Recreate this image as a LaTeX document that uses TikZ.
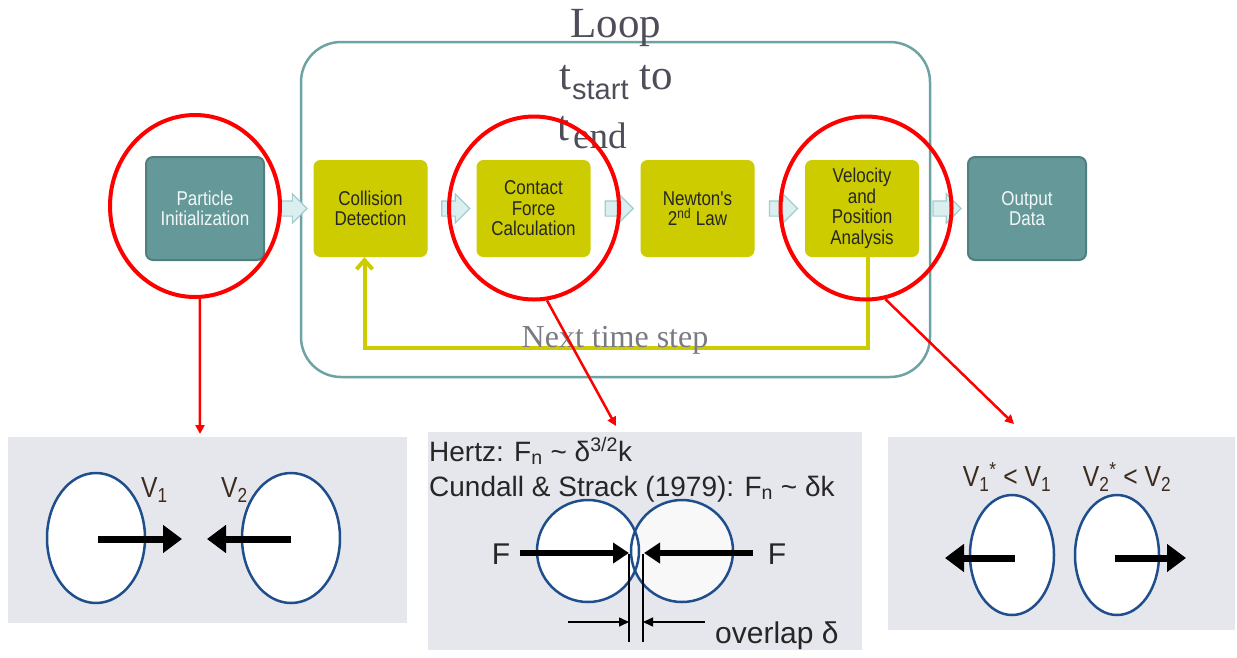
\documentclass[tikz,border=0pt]{standalone}
\usepackage{fontspec}
\setmainfont{Liberation Serif}
\setsansfont{Liberation Sans}
\newfontfamily\narrowsans[FakeStretch=0.85]{Liberation Sans}
\newfontfamily\panelsans{Liberation Sans}
\usetikzlibrary{shapes.arrows,shapes.geometric,arrows.meta,calc}
\definecolor{tealfill}{HTML}{659999}
\definecolor{tealedge}{HTML}{4F7F7F}
\definecolor{yelfill}{HTML}{CCCC00}
\definecolor{loopedge}{HTML}{6FA3A3}
\definecolor{afill}{HTML}{DCEFF0}
\definecolor{aedge}{HTML}{A0CDD0}
\definecolor{ringred}{HTML}{FF0000}
\definecolor{panelgrey}{HTML}{E6E7EC}
\definecolor{partblue}{HTML}{1F4E8C}
\definecolor{looptext}{HTML}{4E4E5A}
\definecolor{vtext}{HTML}{3B2C1E}
\tikzset{
  tealbox/.style={draw=tealedge, line width=2, fill=tealfill, rounded corners=7,
    minimum width=118, minimum height=103, align=center, text=white!92!tealfill,
    font=\narrowsans\fontsize{20}{20.5}\selectfont},
  yelbox/.style={fill=yelfill, rounded corners=7,
    minimum width=114, minimum height=97, align=center, text=black!85,
    font=\narrowsans\fontsize{20}{20.5}\selectfont},
  blockarrow/.style={single arrow, draw=aedge, fill=afill, line width=1.2,
    inner sep=7, minimum height=28, single arrow head extend=7},
  redring/.style={ellipse, draw=ringred, line width=4, inner sep=0},
  redarrow/.style={draw=ringred, line width=2.5, -{Triangle[length=9,width=9]}},
  particle/.style={ellipse, draw=partblue, line width=2.5, fill=white, inner sep=0},
  fatarrow/.style={line width=7, -{Triangle[length=19,width=27]}},
  farrow/.style={line width=6, -{Triangle[length=16,width=20]}},
  dimarrow/.style={line width=1.5, -{Triangle[length=10,width=9]}},
  vlabel/.style={text=vtext, font=\narrowsans\fontsize{29}{30}\selectfont, inner sep=0},
  ptext/.style={text=black!85, font=\panelsans\fontsize{28}{30}\selectfont, inner sep=0},
  bigptext/.style={text=black!85, font=\panelsans\fontsize{30}{32}\selectfont, inner sep=0},
  looptxt/.style={text=looptext, font=\fontsize{43}{45}\selectfont, inner sep=0},
}
\begin{document}
\begin{tikzpicture}[x=1pt,y=-1pt]
\useasboundingbox (0,0) rectangle (1237,657);
% loop frame
\node[draw=loopedge, line width=2.5, rounded corners=40, minimum width=629, minimum height=335, inner sep=0] (loop) at (615.5,209.5) {};
\node[looptxt, anchor=base] (looplbl) at (616,37) {Loop};
\node[looptxt, anchor=base] (tstart) at (616,89) {t\kern1pt\raisebox{-0.25em}{\sffamily\fontsize{29}{30}\selectfont start} to};
\node[looptxt, anchor=base west] (tend) at (557,140) {t\kern4pt\raisebox{-0.2em}{\fontsize{37}{39}\selectfont end}};
% process boxes
\node[tealbox] (pinit) at (205,208.5) {Particle\\Initialization};
\node[yelbox] (coll) at (370.5,208.5) {Collision\\Detection};
\node[yelbox] (cont) at (533.5,208.5) {Contact\\Force\\Calculation};
\node[yelbox] (newt) at (697.5,208.5) {Newton's\\2\textsuperscript{nd} Law};
\node[yelbox] (velo) at (862,208.5) {Velocity\\and\\Position\\Analysis};
\node[tealbox] (outd) at (1027,208.5) {Output\\Data};
% block arrows
\node[blockarrow] (ba1) at ($(pinit.east)!0.5!(coll.west)$) {};
\node[blockarrow] (ba2) at ($(coll.east)!0.5!(cont.west)$) {};
\node[blockarrow] (ba3) at ($(cont.east)!0.5!(newt.west)$) {};
\node[blockarrow] (ba4) at ($(newt.east)!0.5!(velo.west)$) {};
\node[blockarrow] (ba5) at ($(velo.east)!0.5!(outd.west)$) {};
% feedback
\draw[yelfill, line width=4, -{Straight Barb[length=9,width=16]}]
  ([xshift=6]velo.south) -- ++(0,91) -| ([xshift=-6]coll.south);
\node[anchor=base, text=looptext!75, font=\fontsize{32}{34}\selectfont, inner sep=0] (nts) at (615,347) {Next time step};
% red rings
\node[redring, minimum width=170, minimum height=182] (r1) at (195,206) {};
\node[redring, minimum width=170, minimum height=183] (r2) at (534,208) {};
\node[redring, minimum width=171, minimum height=183] (r3) at (866,208) {};
\coordinate (t1) at (200,434);
\coordinate (t2) at (616,426);
\coordinate (t3) at (1014,424);
\draw[redarrow] (r1.-87) -- (t1);
\draw[redarrow] (r2.-82) -- (t2);
\draw[redarrow] (r3.-78) -- (t3);
% panel 1
\fill[panelgrey] (8,437) rectangle (407,623);
\node[particle, minimum width=98, minimum height=130] (p1a) at (96,538) {};
\node[particle, minimum width=98, minimum height=130] (p1b) at (291,538) {};
\coordinate (p1as) at (98,539);
\coordinate (p1bs) at (291,539);
\coordinate (p1ah) at (182,539);
\coordinate (p1bh) at (207,539);
\draw[fatarrow] (p1as) -- (p1ah);
\draw[fatarrow] (p1bs) -- (p1bh);
\node[vlabel, anchor=base west] (v1) at (141,497) {V\textsubscript{1}};
\node[vlabel, anchor=base west] (v2) at (221,497) {V\textsubscript{2}};
% panel 2
\fill[panelgrey] (428,432) rectangle (862,650);
\node[ptext, anchor=base west] (hertz) at (429,461) {Hertz: F\textsubscript{n} \textasciitilde{} δ\textsuperscript{3/2}k};
\node[ptext, anchor=base west] (cundall) at (429,496) {Cundall \& Strack (1979): F\textsubscript{n} \textasciitilde{} δk};
\fill[white!50!panelgrey!60!white] (682,551) circle (51);
\fill[white] (588,551) circle (51);
\node[circle, draw=partblue, line width=2.5, minimum size=102, inner sep=0] (c2a) at (588,551) {};
\node[circle, draw=partblue, line width=2.5, minimum size=102, inner sep=0] (c2b) at (682,551) {};
\coordinate (fl) at (520,553);
\coordinate (flh) at (629,553);
\coordinate (fr) at (753,553);
\coordinate (frh) at (644,553);
\draw[farrow] (fl) -- (flh);
\draw[farrow] (fr) -- (frh);
\node[bigptext, anchor=center] (fL) at (501,554) {F};
\node[bigptext, anchor=center] (fR) at (777,554) {F};
\draw[line width=2.5] (629,554) coordinate (vl1) -- (629,642) coordinate (vl2);
\draw[line width=2.5] (643,554) coordinate (vr1) -- (643,642) coordinate (vr2);
\coordinate (dl) at (568,622);
\coordinate (dlh) at (629,622);
\coordinate (dr) at (705,622);
\coordinate (drh) at (643,622);
\draw[dimarrow] (dl) -- (dlh);
\draw[dimarrow] (dr) -- (drh);
\node[bigptext, anchor=base west] (ovl) at (715,643) {overlap δ};
% panel 3
\fill[panelgrey] (888,437) rectangle (1235,630);
\node[particle, minimum width=84, minimum height=120] (p3a) at (1012,555) {};
\node[particle, minimum width=84, minimum height=120] (p3b) at (1117,555) {};
\coordinate (p3as) at (1015,558);
\coordinate (p3bs) at (1115,558);
\coordinate (p3ah) at (945,558);
\coordinate (p3bh) at (1186,558);
\draw[fatarrow] (p3as) -- (p3ah);
\draw[fatarrow] (p3bs) -- (p3bh);
\node[vlabel, anchor=base] (w1) at (1007,486) {V\textsubscript{1}\textsuperscript{*} < V\textsubscript{1}};
\node[vlabel, anchor=base] (w2) at (1127,486) {V\textsubscript{2}\textsuperscript{*} < V\textsubscript{2}};
\end{tikzpicture}
\end{document}
